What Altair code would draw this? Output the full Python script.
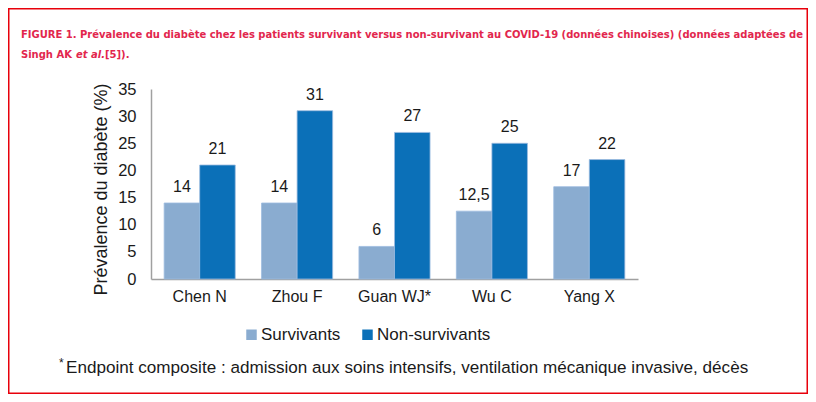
import altair as alt
import pandas as pd

categories = ["Chen N", "Zhou F", "Guan WJ*", "Wu C", "Yang X"]
series = ["Survivants", "Non-survivants"]
survivants = [14, 14, 6, 12.5, 17]
non_survivants = [21, 31, 27, 25, 22]
surv_labels = ["14", "14", "6", "12,5", "17"]
non_labels = ["21", "31", "27", "25", "22"]
y_ticks = [0, 5, 10, 15, 20, 25, 30, 35]
colors = ["#8aacd0", "#0b70b8"]

rows = []
for c, v, l in zip(categories, survivants, surv_labels):
    rows.append({"cat": c, "serie": series[0], "val": v, "lab": l})
for c, v, l in zip(categories, non_survivants, non_labels):
    rows.append({"cat": c, "serie": series[1], "val": v, "lab": l})
df = pd.DataFrame(rows)

FONT = "Liberation Sans"
TFONT = "DejaVu Sans Condensed"
RED = "#e2264d"
W, H = 487, 190
PL, PT, PR, PB = 143, 81, 170, 115

yaxis = alt.Axis(values=y_ticks, title="Prévalence du diabète (%)",
                 titleFontSize=18, titleFont=FONT, titleFontWeight="normal",
                 titleColor="#1a1a1a", titlePadding=7, titleY=100,
                 labelFontSize=16.5, labelFont=FONT, labelColor="#1a1a1a",
                 labelPadding=15, ticks=False, grid=False, labelOverlap=False,
                 domainColor="#a0a0a0", domainWidth=1.5)

base = alt.Chart(df).encode(
    x=alt.X("cat:N", sort=categories,
            scale=alt.Scale(paddingInner=0.27, paddingOuter=0.135),
            axis=alt.Axis(title=None, labelAngle=0, labelFontSize=16, labelFont=FONT,
                          labelColor="#1a1a1a", labelPadding=9, ticks=False,
                          labelOverlap=False,
                          domainColor="#a0a0a0", domainWidth=1.5)),
    xOffset=alt.XOffset("serie:N", sort=series, scale=alt.Scale(paddingInner=0)),
    y=alt.Y("val:Q", scale=alt.Scale(domain=[0, 35], nice=False), axis=yaxis),
)

bars = base.mark_bar(stroke="#9dbbe0", strokeWidth=0.8).encode(
    color=alt.Color("serie:N", sort=series,
                    scale=alt.Scale(domain=series, range=colors),
                    legend=alt.Legend(title=None, orient="none", legendX=92, legendY=237,
                                      direction="horizontal", symbolType="square",
                                      symbolSize=110, symbolStrokeWidth=0,
                                      labelFontSize=17, labelFont=FONT,
                                      labelColor="#1a1a1a", columnPadding=18,
                                      labelOffset=1)),
)

labels = base.mark_text(baseline="alphabetic", dy=-11, fontSize=16, font=FONT,
                        color="#1a1a1a").encode(
    text="lab:N",
)

one = alt.Data(values=[{}])

def note(txt, x, y, size, color, font, weight="normal", style="normal", align="left"):
    return alt.Chart(one).mark_text(
        text=txt, fontSize=size, color=color, font=font, fontWeight=weight,
        fontStyle=style, align=align, baseline="alphabetic"
    ).encode(x=alt.value(x), y=alt.value(y))

TS = 11.1
title1 = note("FIGURE 1. Prévalence du diabète chez les patients survivant versus non-survivant au COVID-19 (données chinoises) (données adaptées de",
              -130, -51, TS, RED, TFONT, weight="bold")
title2a = note("Singh AK", -130, -31, TS, RED, TFONT, weight="bold")
title2b = note("et al.", -75, -31, TS, RED, TFONT, weight="bold", style="italic")
title2c = note("[5]).", -46, -31, TS, RED, TFONT, weight="bold")

star = note("*", -92, 278, 12, "#1a1a1a", FONT)
foot = note("Endpoint composite : admission aux soins intensifs, ventilation mécanique invasive, décès",
            -85, 284, 17.1, "#1a1a1a", FONT)

border = alt.Chart(one).mark_rect(filled=False, stroke="#e8000b", strokeWidth=1.5).encode(
    x=alt.value(-PL + 0.75), x2=alt.value(W + PR - 0.75),
    y=alt.value(-PT + 0.75), y2=alt.value(H + PB - 0.75),
)

chart = alt.layer(bars, labels, title1, title2a, title2b, title2c, star, foot, border).properties(
    width=W, height=H,
    background="white",
    autosize=alt.AutoSizeParams(type="none"),
    padding={"left": PL, "top": PT, "right": PR, "bottom": PB},
).configure_view(stroke=None)

chart.save("out.html", embed_options={"renderer": "svg", "actions": False})
